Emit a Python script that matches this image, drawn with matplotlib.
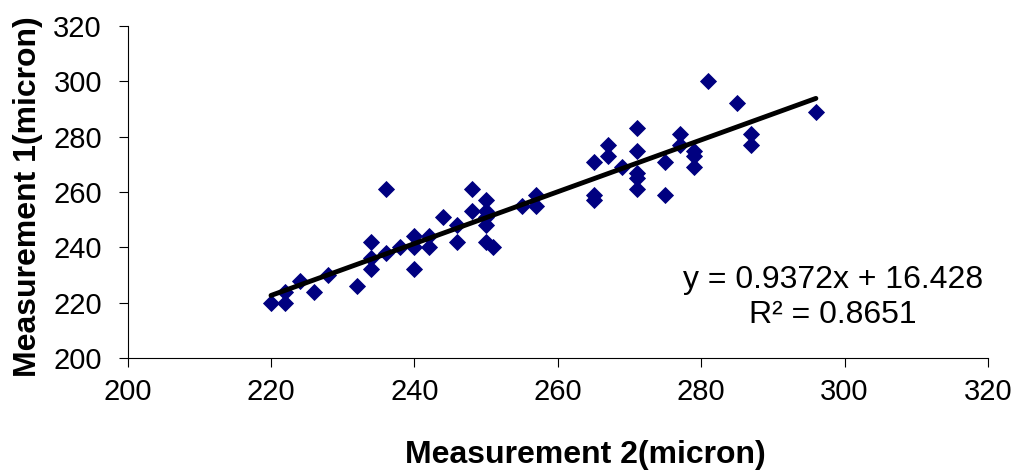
import numpy as np
import matplotlib
matplotlib.use("Agg")
import matplotlib.pyplot as plt

plt.rcParams['font.family'] = ['Liberation Sans', 'DejaVu Sans']

# Measurement 2 (x) and Measurement 1 (y), microns
meas2 = [220, 222, 222, 224, 226, 228, 232, 234, 234, 234, 236, 236, 238,
         240, 240, 240, 242, 242, 244, 246, 246, 248, 248,
         250, 250, 250, 250, 250, 251, 255, 257, 257,
         265, 265, 265, 267, 267, 269, 271, 271, 271, 271, 271,
         275, 275, 277, 277, 279, 279, 279, 281, 285, 287, 287, 296]
meas1 = [220, 220, 224, 228, 224, 230, 226, 232, 236, 242, 238, 261, 240,
         232, 240, 244, 240, 244, 251, 242, 248, 253, 261,
         242, 248, 251, 253, 257, 240, 255, 255, 259,
         257, 259, 271, 273, 277, 269, 261, 265, 267, 275, 283,
         259, 271, 277, 281, 269, 273, 275, 300, 292, 277, 281, 289]

slope = 0.9372
intercept = 16.428
r2 = 0.8651

xticks = [200, 220, 240, 260, 280, 300, 320]
yticks = [200, 220, 240, 260, 280, 300, 320]

fig = plt.figure(figsize=(10.16, 4.74), dpi=100)
ax = fig.add_axes([0.1256, 0.2447, 0.8468, 0.7004])

ax.plot(meas2, meas1, linestyle='none', marker='D', markersize=7.8,
        color='#000080', markeredgecolor='#000080', markeredgewidth=0.6, zorder=3)

xs = np.array([min(meas2), max(meas2)])
ax.plot(xs, slope * xs + intercept, color='black', linewidth=3.5,
        solid_capstyle='round', zorder=4)

ax.set_xlim(200, 320)
ax.set_ylim(200, 320)
ax.set_xticks(xticks)
ax.set_yticks(yticks)
ax.set_xticklabels([str(t) for t in xticks], fontsize=21)
ax.set_yticklabels([str(t) for t in yticks], fontsize=21)

for s in ['top', 'right']:
    ax.spines[s].set_visible(False)
for s in ['left', 'bottom']:
    ax.spines[s].set_color('#000000')
    ax.spines[s].set_linewidth(0.8)
ax.tick_params(axis='both', direction='out', length=6.5, width=0.8, colors='black')
ax.tick_params(axis='x', pad=8)
ax.tick_params(axis='y', pad=12)

ax.set_xlabel('Measurement 2(micron)', fontsize=23, fontweight='bold')
ax.set_ylabel('Measurement 1(micron)', fontsize=23, fontweight='bold')
ax.xaxis.set_label_coords(0.532, -0.292)
ax.xaxis.label.set_va('center')
ax.yaxis.set_label_coords(-0.1158, 0.485)
ax.yaxis.label.set_va('center')

ax.text(0.82, 0.183, f'y = {slope}x + {intercept}\nR² = {r2}', transform=ax.transAxes,
        ha='center', va='center', fontsize=23, linespacing=1.2)

fig.savefig('out.png', dpi=100)
